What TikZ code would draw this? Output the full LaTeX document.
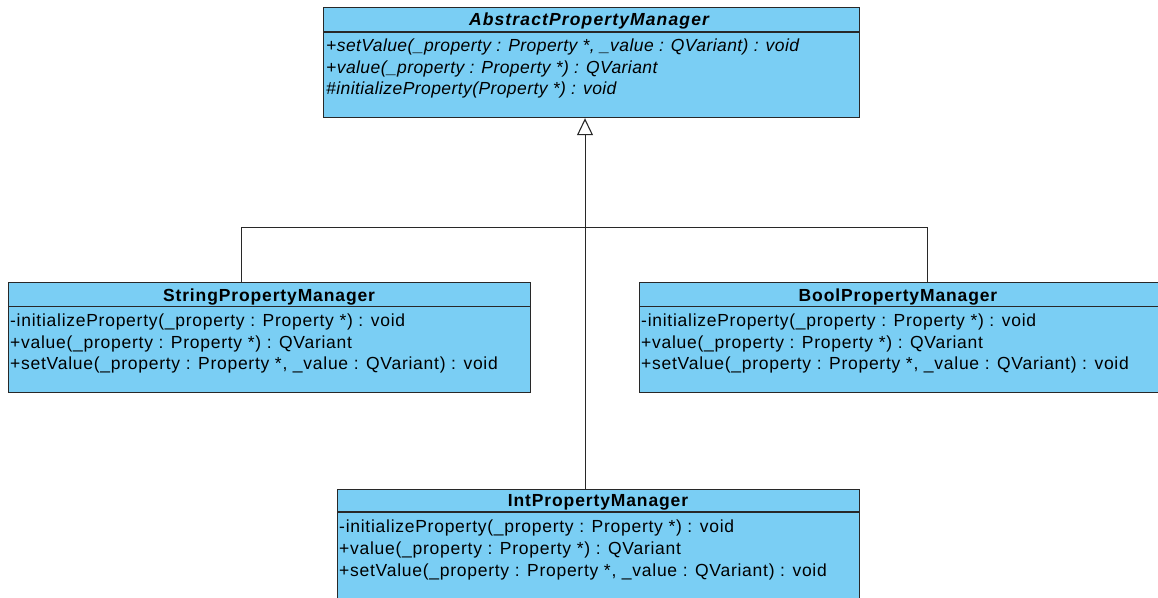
\documentclass[tikz,border=0pt]{standalone}
\usepackage{fontspec}
\setmainfont{Liberation Sans}[LetterSpace=4.2,
  ItalicFeatures={LetterSpace=2.4},
  BoldFeatures={LetterSpace=5},
  BoldItalicFeatures={LetterSpace=6.5}]
\usetikzlibrary{arrows.meta}
\definecolor{classfill}{RGB}{122,206,244}
\definecolor{edge}{RGB}{40,40,40}
\tikzset{
  classbox/.style={draw=edge, line width=1.2pt, fill=classfill, anchor=north west, inner sep=0pt},
  title/.style={font=\fontsize{17.5}{20}\selectfont\bfseries, inner sep=0pt, anchor=base},
  abstitle/.style={title, font=\fontsize{17.5}{20}\selectfont\bfseries\itshape},
  member/.style={font=\fontsize{17.5}{20}\selectfont, inner sep=0pt, anchor=base west},
  absmember/.style={member, font=\fontsize{17.5}{20}\selectfont\itshape},
  divider/.style={draw=edge, line width=1.2pt},
  link/.style={draw=edge, line width=1pt},
  generalize/.style={link, -{Triangle[open, width=16pt, length=17pt, fill=white, line width=1.1pt]}}
}
\begin{document}
\begin{tikzpicture}[x=1pt, y=-1pt]
\useasboundingbox (0,0) rectangle (1158,597);
\clip (0,0) rectangle (1158,597);

% Abstract base class
\node[classbox, minimum width=536pt, minimum height=110pt] (abs) at (323,7) {};
\draw[divider] ([yshift=-25pt]abs.north west) -- ([yshift=-25pt]abs.north east);
\node[abstitle] (absT) at (589,25.5) {AbstractPropertyManager};
\node[absmember] (absM1) at (326,51) {+setValue(\_property : Property *, \_value : QVariant) : void};
\node[absmember] (absM2) at (326,73) {+value(\_property : Property *) : QVariant};
\node[absmember] (absM3) at (326,94) {\#initializeProperty(Property *) : void};

% String manager
\node[classbox, minimum width=522pt, minimum height=110pt] (str) at (8,282) {};
\draw[divider] ([yshift=-24.5pt]str.north west) -- ([yshift=-24.5pt]str.north east);
\node[title] (strT) at (269,301) {StringPropertyManager};
\node[member] (strM1) at (10,326) {-initializeProperty(\_property : Property *) : void};
\node[member] (strM2) at (10,348) {+value(\_property : Property *) : QVariant};
\node[member] (strM3) at (10,369) {+setValue(\_property : Property *, \_value : QVariant) : void};

% Bool manager
\node[classbox, minimum width=520pt, minimum height=110pt] (bool) at (639,282) {};
\draw[divider] ([yshift=-24.5pt]bool.north west) -- ([yshift=-24.5pt]bool.north east);
\node[title] (boolT) at (898,301) {BoolPropertyManager};
\node[member] (boolM1) at (641,326) {-initializeProperty(\_property : Property *) : void};
\node[member] (boolM2) at (641,348) {+value(\_property : Property *) : QVariant};
\node[member] (boolM3) at (641,369) {+setValue(\_property : Property *, \_value : QVariant) : void};

% Int manager
\node[classbox, minimum width=522pt, minimum height=112pt] (int) at (337,489) {};
\draw[divider] ([yshift=-23pt]int.north west) -- ([yshift=-23pt]int.north east);
\node[title] (intT) at (598,506.5) {IntPropertyManager};
\node[member] (intM1) at (339,532) {-initializeProperty(\_property : Property *) : void};
\node[member] (intM2) at (339,554) {+value(\_property : Property *) : QVariant};
\node[member] (intM3) at (339,576) {+setValue(\_property : Property *, \_value : QVariant) : void};

% Generalization tree
\coordinate (hub) at (585,227.5);
\coordinate (sjoin) at (241,227.5);
\coordinate (bjoin) at (927.5,227.5);
\draw[generalize] (int.north -| hub) -- (abs.south -| hub);
\draw[link] (str.north -| sjoin) |- (hub) -| (bool.north -| bjoin);
\end{tikzpicture}
\end{document}
